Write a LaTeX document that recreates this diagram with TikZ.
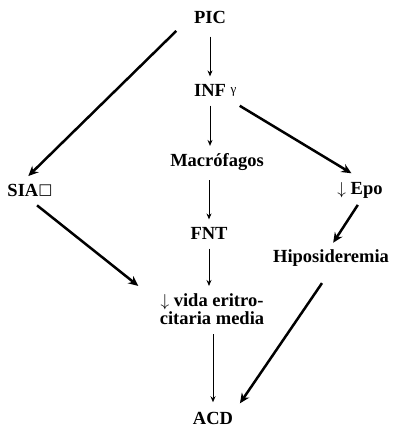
\documentclass[tikz,border=0pt]{standalone}
\usepackage{fontspec}
\setmainfont{Liberation Serif}
\newfontfamily\symfont{DejaVu Sans}
\usetikzlibrary{arrows.meta}

\begin{document}
\begin{tikzpicture}[x=1pt,y=-1pt,
  font=\bfseries\fontsize{18.5}{18}\selectfont,
  thinarrow/.style={line width=0.9pt,-{Stealth[length=6pt,width=5pt]}},
  thickarrow/.style={line width=2.5pt,-{Stealth[length=10pt,width=9pt]}}]
\useasboundingbox (0,0) rectangle (392,430);

% Labels
\node (pic) at (210,17) {PIC};
\node[label={[font=\mdseries\fontsize{13}{13}\selectfont,inner sep=1pt,yshift=-2pt]right:γ}] (inf) at (210,90) {INF};
\node (mac) at (217,162) {Macrófagos};
\node (sia) at (30,190) {SIA\raisebox{2pt}{\symfont\mdseries\fontsize{15}{15}\selectfont □}};
\node (epo) at (360,190) {$\downarrow$ Epo};
\node (fnt) at (209,233) {FNT};
\node (hipo) at (331,258) {Hiposideremia};
\node[align=center] (vida) at (212,309) {$\downarrow$ vida eritro-\\citaria media};
\node (acd) at (213,418) {ACD};

% thin vertical arrows
\draw[thinarrow, shorten <=10pt, shorten >=4pt] (pic.south) -- (pic.south |- inf.north);
\draw[thinarrow, shorten <=6pt, shorten >=4pt] (inf.south) -- (inf.south |- mac.north);
\draw[thinarrow, shorten <=6pt, shorten >=4pt] (fnt.north |- mac.south) -- (fnt.north);
\draw[thinarrow, shorten <=6pt, shorten >=4pt] (fnt.south) -- (fnt.south |- vida.north);
\draw[thinarrow, shorten <=6pt, shorten >=6pt] (acd.north |- vida.south) -- (acd.north);

% thick diagonal arrows
\draw[thickarrow, shorten <=6pt, shorten >=6pt] ([xshift=-10pt]pic.south west) -- ([xshift=-6pt]sia.north);
\draw[thickarrow, shorten <=12pt, shorten >=10pt] (inf.south east) -- (epo.north);
\draw[thickarrow, shorten <=9pt, shorten >=0pt] (sia.south) -- ([xshift=-18pt,yshift=4pt]vida.north west);
\draw[thickarrow, shorten <=4pt, shorten >=4pt] (epo.south) -- (hipo.north);
\draw[thickarrow, shorten <=16pt, shorten >=6pt] (hipo.south) -- (acd.north east);
\end{tikzpicture}
\end{document}
